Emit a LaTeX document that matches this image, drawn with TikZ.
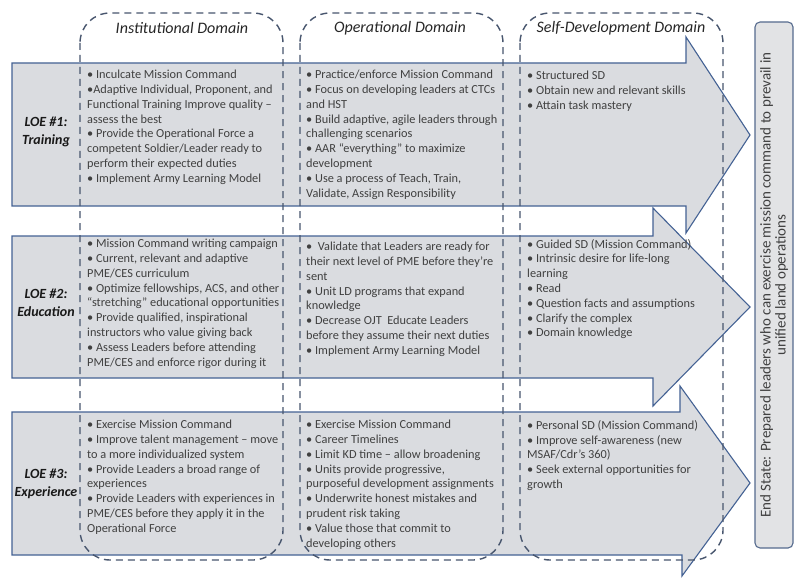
\documentclass[tikz,border=0pt]{standalone}
\usepackage{fontspec}
\setmainfont{Carlito}
\definecolor{arrowfill}{RGB}{218,220,224}
\definecolor{arrowline}{RGB}{68,98,148}
\definecolor{domainline}{RGB}{72,86,110}
\definecolor{bodytext}{RGB}{64,64,64}
\definecolor{endfill}{RGB}{226,227,229}

\begin{document}
\begin{tikzpicture}[x=1pt, y=-1pt,
    loe/.style={fill=arrowfill, draw=arrowline, line width=1.1pt, line join=miter},
    domainbox/.style={draw=domainline, line width=1.4pt, dash pattern=on 7pt off 5pt, rounded corners=30pt},
    items/.style={anchor=north west, inner sep=0pt, align=left, text=bodytext, font=\fontsize{12.3}{14.8}\selectfont},
    loelabel/.style={align=center, inner sep=0pt, text=black!90, font=\fontsize{14}{18}\selectfont\bfseries\itshape},
    domainlabel/.style={inner sep=0pt, text=black!85, font=\fontsize{16}{18}\selectfont\itshape},
    endstate/.style={draw=arrowline!70!gray, fill=endfill, line width=1.1pt, rounded corners=5pt, align=center, text=bodytext, font=\fontsize{15}{15}\selectfont}]

\useasboundingbox (0,0) rectangle (797,580);
\fill[white] (0,0) rectangle (797,580);

% lines of effort
\draw[loe] (12,63) -- (686,63) -- (686,37) -- (750,135) -- (686,233) -- (686,206) -- (12,206) -- cycle;
\draw[loe] (12,236) -- (653,236) -- (653,208) -- (750,307) -- (653,406) -- (653,378) -- (12,378) -- cycle;
\draw[loe] (12,412) -- (680,412) -- (680,386) -- (750,483) -- (682,576) -- (682,555) -- (12,555) -- cycle;

% domains
\foreach \x in {80, 300, 520} {
    \draw[domainbox] (\x,13) rectangle (\x+203,560);
}
\node[domainlabel] (instdom) at (182,28) {Institutional Domain};
\node[domainlabel] (operdom) at (400,28) {Operational Domain};
\node[domainlabel] (selfdom) at (621,28) {Self-Development Domain};

% LOE labels
\node[loelabel] (loe1) at (46,132) {LOE \#1:\\Training};
\node[loelabel] (loe2) at (46,303) {LOE \#2:\\Education};
\node[loelabel] (loe3) at (46,484) {LOE \#3:\\Experience};

% training
\node[items] (inst1) at (87,70) {• Inculcate Mission Command\\
•Adaptive Individual, Proponent, and\\
Functional Training Improve quality –\\
assess the best\\
• Provide the Operational Force a\\
competent Soldier/Leader ready to\\
perform their expected duties\\
• Implement Army Learning Model};
\node[items] (oper1) at (306,70) {• Practice/enforce Mission Command\\
• Focus on developing leaders at CTCs\\
and HST\\
• Build adaptive, agile leaders through\\
challenging scenarios\\
• AAR “everything” to maximize\\
development\\
• Use a process of Teach, Train,\\
Validate, Assign Responsibility};
\node[items] (self1) at (527,71) {• Structured SD\\
• Obtain new and relevant skills\\
• Attain task mastery};

% education
\node[items] (inst2) at (87,239) {• Mission Command writing campaign\\
• Current, relevant and adaptive\\
PME/CES curriculum\\
• Optimize fellowships, ACS, and other\\
“stretching” educational opportunities\\
• Provide qualified, inspirational\\
instructors who value giving back\\
• Assess Leaders before attending\\
PME/CES and enforce rigor during it};
\node[items] (oper2) at (306,242) {•\ \ Validate that Leaders are ready for\\
their next level of PME before they’re\\
sent\\
• Unit LD programs that expand\\
knowledge\\
• Decrease OJT\ \ Educate Leaders\\
before they assume their next duties\\
• Implement Army Learning Model};
\node[items] (self2) at (527,239) {• Guided SD (Mission Command)\\
• Intrinsic desire for life-long\\
learning\\
• Read\\
• Question facts and assumptions\\
• Clarify the complex\\
• Domain knowledge};

% experience
\node[items] (inst3) at (87,420) {• Exercise Mission Command\\
• Improve talent management – move\\
to a more individualized system\\
• Provide Leaders a broad range of\\
experiences\\
• Provide Leaders with experiences in\\
PME/CES before they apply it in the\\
Operational Force};
\node[items] (oper3) at (306,420) {• Exercise Mission Command\\
• Career Timelines\\
• Limit KD time – allow broadening\\
• Units provide progressive,\\
purposeful development assignments\\
• Underwrite honest mistakes and\\
prudent risk taking\\
• Value those that commit to\\
developing others};
\node[items] (self3) at (527,420) {• Personal SD (Mission Command)\\
• Improve self-awareness (new\\
MSAF/Cdr’s 360)\\
• Seek external opportunities for\\
growth};

% end state
\node[endstate, rotate=90, minimum width=526pt, minimum height=38pt, inner sep=1pt] (endbox) at (774,285)
    {End State: Prepared leaders who can exercise mission command to prevail in\\unified land operations};
\end{tikzpicture}
\end{document}
